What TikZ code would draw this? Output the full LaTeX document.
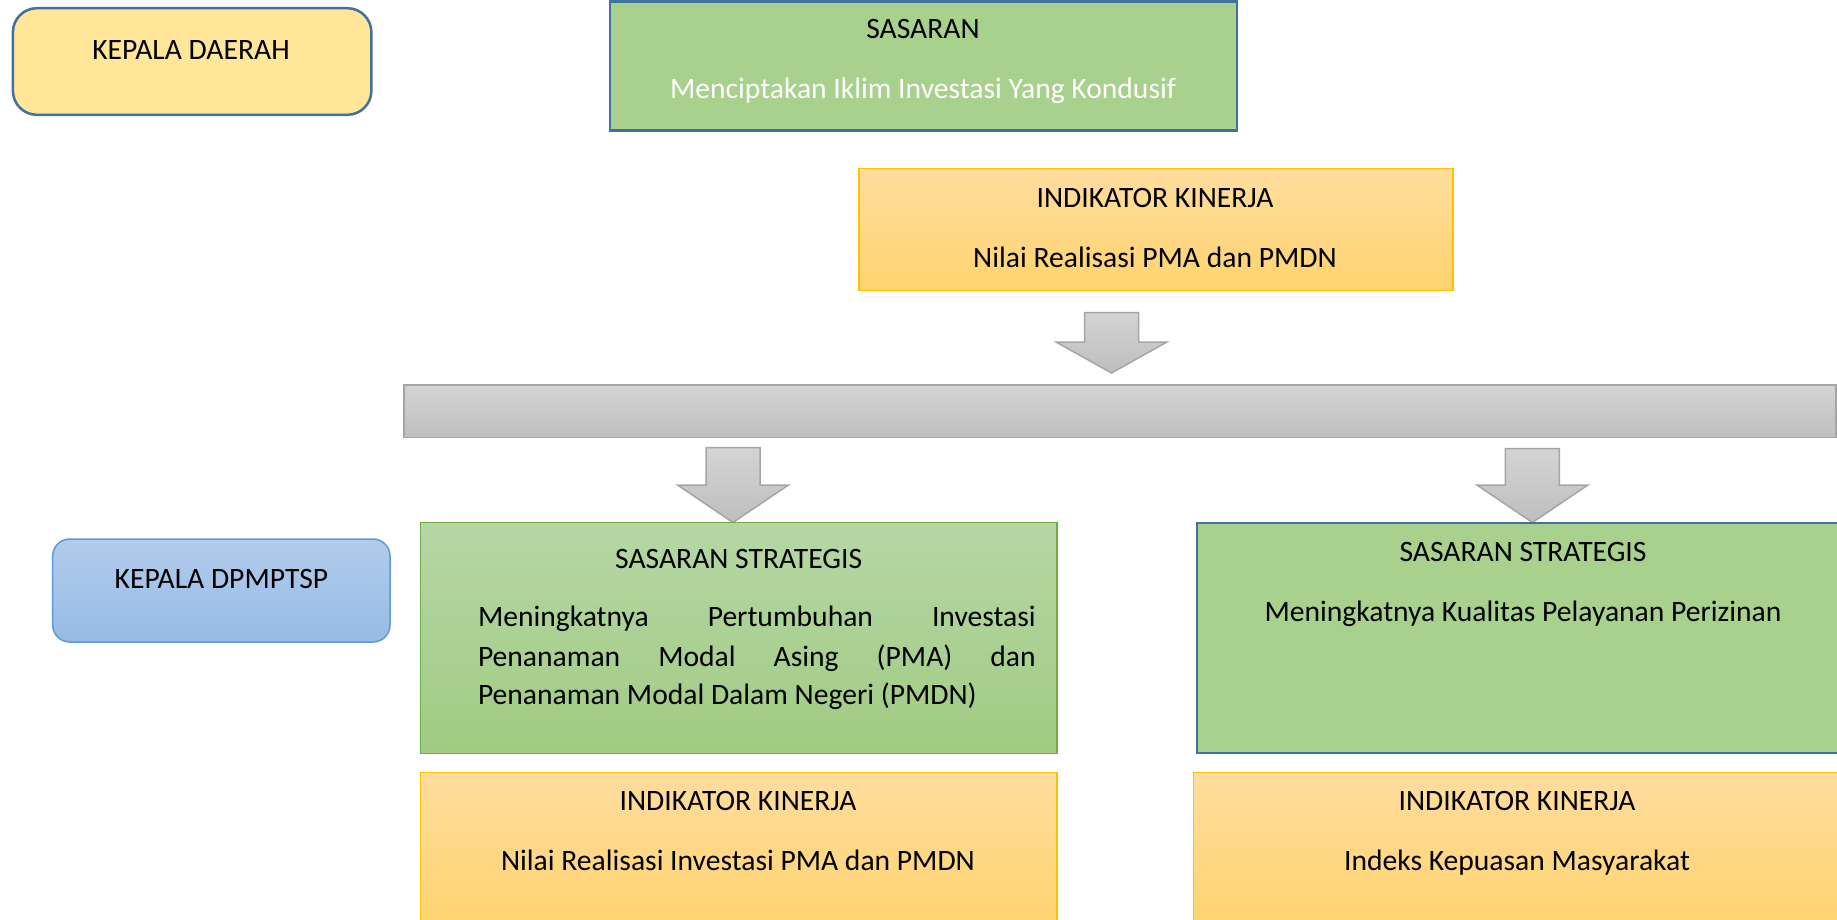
\documentclass[tikz,border=0pt]{standalone}
\usepackage{fontspec}
\setmainfont{Carlito}
\definecolor{kdfill}{RGB}{255,230,153}
\definecolor{bluebd}{RGB}{65,113,156}
\definecolor{sgreen}{RGB}{169,209,142}
\definecolor{iktop}{RGB}{255,221,158}
\definecolor{ikbot}{RGB}{255,211,110}
\definecolor{ikbd}{RGB}{255,192,0}
\definecolor{graytop}{RGB}{212,212,212}
\definecolor{graybot}{RGB}{190,190,190}
\definecolor{graybd}{RGB}{165,165,165}
\definecolor{dptop}{RGB}{178,204,235}
\definecolor{dpbot}{RGB}{150,187,230}
\definecolor{dpbd}{RGB}{91,155,213}
\definecolor{sstop}{RGB}{182,215,165}
\definecolor{ssbot}{RGB}{160,203,130}
\definecolor{ssbd}{RGB}{112,173,71}
\begin{document}
\begin{tikzpicture}[x=1pt,y=-1pt,
  txt/.style={font=\fontsize{29.6}{38.7}\selectfont, inner sep=0pt, outer sep=0pt, anchor=base},
  box/.style={anchor=north west, inner sep=0pt, outer sep=0pt},
  grayshape/.style={draw=graybd, line width=1.5pt, top color=graytop, bottom color=graybot, line join=miter},
  ikbox/.style={box, draw=ikbd, line width=1.5pt, top color=iktop, bottom color=ikbot},
]
\useasboundingbox (0,0) rectangle (1837,920);
\clip (0,0) rectangle (1837,920);

% --- top-left boxes
\node[box, rounded corners=24pt, fill=kdfill, draw=bluebd, line width=2.5pt,
      minimum width=358.5pt, minimum height=106.6pt] (kd) at (12.9,8.2) {};
\node[txt] (kdt) at (191,59.7) {KEPALA DAERAH};

\node[box, fill=sgreen, draw=bluebd, line width=2.5pt,
      minimum width=627pt, minimum height=129pt] (sas) at (610,1.5) {};
\node[txt] (sast) at (923,38.6) {SASARAN};
\node[txt, text=white] (sasb) at (923,98.3) {Menciptakan Iklim Investasi Yang Kondusif};

\node[ikbox, minimum width=594pt, minimum height=122pt] (ik0) at (859,168.7) {};
\node[txt] (ik0t) at (1155,207.3) {INDIKATOR KINERJA};
\node[txt] (ik0b) at (1155,267) {Nilai Realisasi PMA dan PMDN};

% --- arrow to bar
\coordinate (t0) at (1111.5,373);
\draw[grayshape] (t0) -- ++(-55.5,-31) -- ++(28.5,0) -- ++(0,-29.5) -- ++(54,0)
  -- ++(0,29.5) -- ++(28.5,0) -- cycle;

% --- gray bar
\node[box, draw=graybd, line width=1.5pt, top color=graytop, bottom color=graybot,
      minimum width=1432pt, minimum height=52.5pt] (bar) at (404,385) {};

% --- arrows to strategies
\coordinate (t1) at (733,522.5);
\draw[grayshape] (t1) -- ++(-55.5,-37.5) -- ++(28.5,0) -- ++(0,-37.3) -- ++(54,0)
  -- ++(0,37.3) -- ++(28.5,0) -- cycle;
\coordinate (t2) at (1532.4,522.5);
\draw[grayshape] (t2) -- ++(-55.5,-37.5) -- ++(28.5,0) -- ++(0,-36.3) -- ++(54,0)
  -- ++(0,36.3) -- ++(28.5,0) -- cycle;

% --- KEPALA DPMPTSP
\node[box, rounded corners=17pt, draw=dpbd, line width=1.5pt, top color=dptop, bottom color=dpbot,
      minimum width=337.3pt, minimum height=103pt] (dp) at (52.7,539) {};
\node[txt] (dpt) at (221.4,588) {KEPALA DPMPTSP};

% --- left strategy
\node[box, draw=ssbd, line width=1.5pt, top color=sstop, bottom color=ssbot,
      minimum width=636.2pt, minimum height=230.8pt] (ss1) at (420.6,522.5) {};
\node[txt] (ss1t) at (738.7,568.2) {SASARAN STRATEGIS};
\node[txt, anchor=base west] (ss1a) at (478,626.7) {\makebox[557.7pt][s]{Meningkatnya Pertumbuhan Investasi}};
\node[txt, anchor=base west] (ss1b) at (478,666.6) {\makebox[557.7pt][s]{Penanaman Modal Asing (PMA) dan}};
\node[txt, anchor=base west] (ss1c) at (478,704.1) {Penanaman Modal Dalam Negeri (PMDN)};

% --- right strategy
\node[box, fill=sgreen, draw=bluebd, line width=2pt,
      minimum width=660pt, minimum height=230.8pt] (ss2) at (1196.5,522.5) {};
\node[txt] (ss2t) at (1523,561) {SASARAN STRATEGIS};
\node[txt] (ss2b) at (1523,621) {Meningkatnya Kualitas Pelayanan Perizinan};

% --- bottom indicators
\node[ikbox, minimum width=636.2pt, minimum height=160pt] (ik1) at (420.6,772.5) {};
\node[txt] (ik1t) at (738,810.7) {INDIKATOR KINERJA};
\node[txt] (ik1b) at (738,870.4) {Nilai Realisasi Investasi PMA dan PMDN};

\node[ikbox, minimum width=660pt, minimum height=160pt] (ik2) at (1193.5,772.5) {};
\node[txt] (ik2t) at (1517,810.7) {INDIKATOR KINERJA};
\node[txt] (ik2b) at (1517,870.4) {Indeks Kepuasan Masyarakat};
\end{tikzpicture}
\end{document}
